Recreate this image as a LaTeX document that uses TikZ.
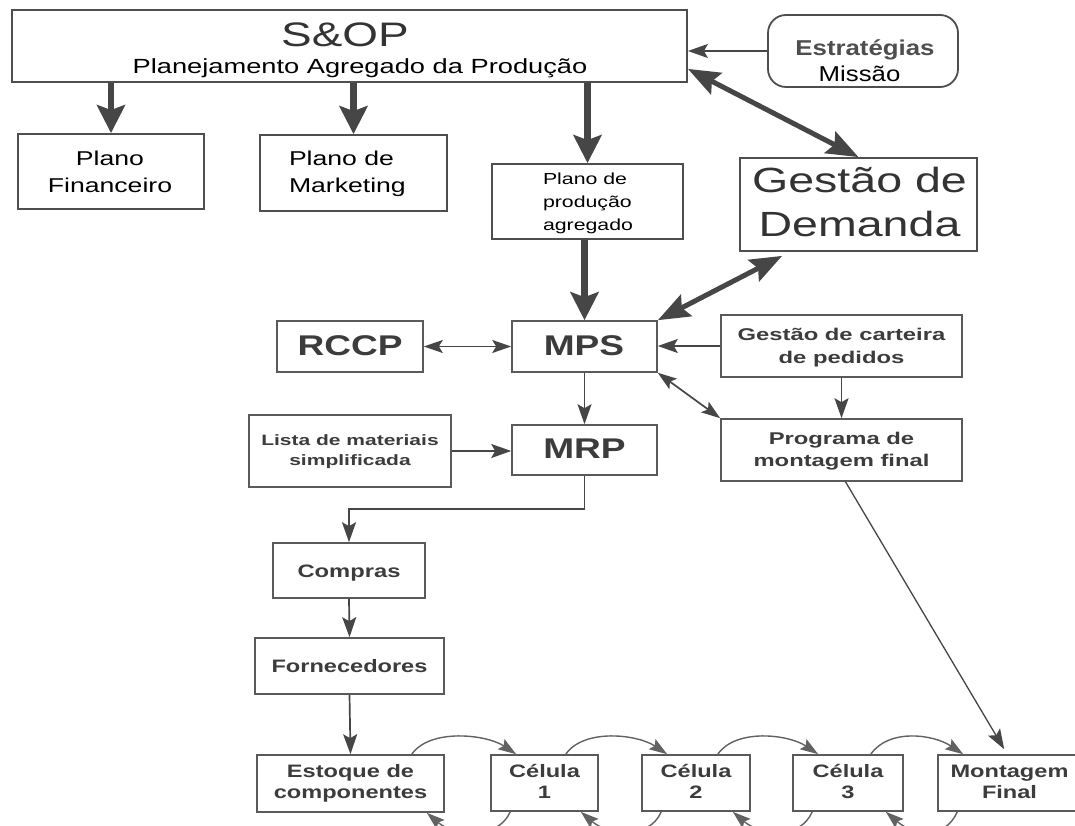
\documentclass[tikz,border=0pt]{standalone}
\usepackage{fontspec}
\setmainfont{Liberation Sans}
\usetikzlibrary{arrows.meta}
\definecolor{lnc}{HTML}{464646}
\definecolor{bdc}{HTML}{4E4E4E}
\definecolor{lbc}{HTML}{5A5A5A}
\definecolor{txg}{HTML}{3C3C3C}
\newcommand{\stx}[3]{\scalebox{#1}[1]{\begin{tabular}[t]{@{}#2@{}}#3\end{tabular}}}
\newcommand{\fs}[2]{\fontsize{#1}{#2}\selectfont}
\begin{document}
\begin{tikzpicture}[x=1pt,y=-1pt,
  box/.style={draw=bdc, line width=1.8pt, inner sep=0pt},
  lbox/.style={draw=lbc, line width=1.6pt, inner sep=0pt},
  tb/.style={anchor=base, inner sep=0pt, outer sep=0pt},
  tbw/.style={anchor=base west, inner sep=0pt, outer sep=0pt},
  btxt/.style={tb, text=txg},
  bigarr/.style={draw=lnc, line width=6.5pt, -{Stealth[length=28pt,width=28pt,inset=5pt]}},
  bigdbl/.style={draw=lnc, line width=5pt, {Stealth[length=32pt,width=24pt,inset=5pt]}-{Stealth[length=32pt,width=24pt,inset=5pt]}},
  arr/.style={draw=lnc, line width=1.7pt, -{Stealth[length=20pt,width=14pt,inset=4pt]}},
  dbl/.style={draw=lnc, line width=1.7pt, {Stealth[length=19pt,width=13pt,inset=4pt]}-{Stealth[length=19pt,width=13pt,inset=4pt]}},
  arcarr/.style={draw=lnc!85, line width=1.4pt, -{Stealth[length=18pt,width=12pt,inset=3pt]}},
]
\fill[white] (0,0) rectangle (1075,826);
\useasboundingbox (0,0) rectangle (1075,826);

% ---------- top row ----------
\node[box, minimum width=675pt, minimum height=72pt] (sop) at (349.5,46) {};
\node[tb, font=\fs{34}{36}, text=black!80] (sopT) at (345,47) {\stx{1.35}{c}{S\&OP}};
\node[tb, font=\fs{20.5}{24}] (sopS) at (360,74) {\stx{1.33}{c}{Planejamento Agregado da Produção}};

\node[box, rounded corners=18pt, minimum width=190pt, minimum height=72pt] (est) at (863,51) {};
\node[tb, font=\fs{21.5}{24}\bfseries, text=bdc] (estA) at (865,56) {\stx{1.2}{c}{Estratégias}};
\node[tb, font=\fs{21.5}{24}] (estB) at (859.5,82) {\stx{1.2}{c}{Missão}};

\node[box, minimum width=186pt, minimum height=75pt] (fin) at (111,171.5) {};
\node[tb, font=\fs{20}{27}] (finT) at (110,166) {\stx{1.33}{c}{Plano\\Financeiro}};

\node[box, minimum width=187pt, minimum height=76pt] (mkt) at (353.5,173) {};
\node[tbw, font=\fs{20}{27}] (mktT) at (289,166) {\stx{1.33}{l}{Plano de\\Marketing}};

\node[box, minimum width=191pt, minimum height=75pt] (ppa) at (587.5,201.5) {};
\node[tbw, font=\fs{16}{23}] (ppaT) at (543,185) {\stx{1.33}{l}{Plano de\\produção\\agregado}};

\node[box, minimum width=237pt, minimum height=93pt] (gd) at (858.5,204.5) {};
\node[tb, font=\fs{35}{44}, text=black!80] (gdT) at (859.5,193) {\stx{1.33}{c}{Gestão de\\Demanda}};

% ---------- middle ----------
\node[lbox, minimum width=146pt, minimum height=51pt] (rccp) at (350,346.5) {};
\node[btxt, font=\fs{28.5}{30}\bfseries] (rccpT) at (350,355) {\stx{1.3}{c}{RCCP}};

\node[lbox, minimum width=145pt, minimum height=51pt] (mps) at (584.5,346.5) {};
\node[btxt, font=\fs{28.5}{30}\bfseries] (mpsT) at (584,355) {\stx{1.3}{c}{MPS}};

\node[lbox, minimum width=241pt, minimum height=62pt] (cart) at (841.5,346) {};
\node[btxt, font=\fs{17}{23}\bfseries] (cartT) at (841.5,340) {\stx{1.4}{c}{Gestão de carteira\\de pedidos}};

\node[lbox, minimum width=202pt, minimum height=72pt] (lista) at (350,451) {};
\node[btxt, font=\fs{15}{20}\bfseries] (listaT) at (350,445) {\stx{1.4}{c}{Lista de materiais\\simplificada}};

\node[lbox, minimum width=145pt, minimum height=50pt] (mrp) at (584.5,450) {};
\node[btxt, font=\fs{28.5}{30}\bfseries] (mrpT) at (584.5,458) {\stx{1.3}{c}{MRP}};

\node[lbox, minimum width=241pt, minimum height=62pt] (prog) at (841.5,450) {};
\node[btxt, font=\fs{17}{22}\bfseries] (progT) at (841.5,444) {\stx{1.4}{c}{Programa de\\montagem final}};

% ---------- lower ----------
\node[lbox, minimum width=152pt, minimum height=55pt] (comp) at (349,570.5) {};
\node[btxt, font=\fs{18}{21}\bfseries] (compT) at (349,577) {\stx{1.32}{c}{Compras}};

\node[lbox, minimum width=189pt, minimum height=56pt] (forn) at (349.5,666) {};
\node[btxt, font=\fs{18}{21}\bfseries] (fornT) at (349.5,672) {\stx{1.31}{c}{Fornecedores}};

\node[lbox, minimum width=187pt, minimum height=57pt] (esto) at (350.5,783.5) {};
\node[btxt, font=\fs{18}{21}\bfseries] (estoT) at (350.5,777) {\stx{1.31}{c}{Estoque de\\componentes}};

\node[lbox, minimum width=107pt, minimum height=56pt] (c1) at (544.5,783) {};
\node[btxt, font=\fs{18}{21}\bfseries] (c1T) at (544.5,777) {\stx{1.31}{c}{Célula\\1}};

\node[lbox, minimum width=108pt, minimum height=56pt] (c2) at (696,783) {};
\node[btxt, font=\fs{18}{21}\bfseries] (c2T) at (696,777) {\stx{1.31}{c}{Célula\\2}};

\node[lbox, minimum width=110pt, minimum height=56pt] (c3) at (848,783) {};
\node[btxt, font=\fs{18}{21}\bfseries] (c3T) at (848,777) {\stx{1.31}{c}{Célula\\3}};

\node[lbox, minimum width=142pt, minimum height=56pt] (mont) at (1009,783) {};
\node[btxt, font=\fs{18}{21}\bfseries] (montT) at (1009.5,777) {\stx{1.31}{c}{Montagem\\Final}};

% ---------- connectors ----------
\draw[bigarr] (sop.south -| fin.north) -- (fin.north);
\draw[bigarr] (sop.south -| mkt.north) -- (mkt.north);
\draw[bigarr] (sop.south -| ppa.north) -- (ppa.north);
\draw[bigarr] (ppa.south -| mps.north) -- (mps.north);
\draw[arr] (est.west) -- (est.west -| sop.east);
\draw[bigdbl] ([yshift=14pt]sop.south east) -- (gd.north);
\draw[bigdbl] (mps.north east) -- ([xshift=43pt,yshift=-4pt]gd.south west);

\draw[dbl] (rccp.east) -- (mps.west);
\draw[arr] (cart.west) -- (cart.west -| mps.east);
\draw[arr] (cart.south) -- (prog.north);
\draw[dbl] (mps.south east) -- (prog.north west);
\draw[arr] (mps.south) -- (mrp.north);
\draw[arr] (lista.east) -- (lista.east -| mrp.west);
\draw[arr] (mrp.south) -- ++(0,33) -| (comp.north);
\draw[arr] (comp.south) -- (forn.north);
\draw[arr] (forn.south) -- (esto.north);
\draw[arr, line width=1.3pt] ([xshift=4pt]prog.south) -- ([xshift=67pt,yshift=5pt]mont.north west);

\foreach \a/\b in {esto/c1,c1/c2,c2/c3,c3/mont}{
  \draw[arcarr] ([xshift=-33pt]\a.north east) .. controls +(18,-26) and +(-30,-20) .. ([xshift=26pt]\b.north west);
  \draw[arcarr] ([xshift=20pt]\b.south west) .. controls +(-12,28) and +(28,24) .. ([xshift=-18pt]\a.south east);
}
\end{tikzpicture}
\end{document}
